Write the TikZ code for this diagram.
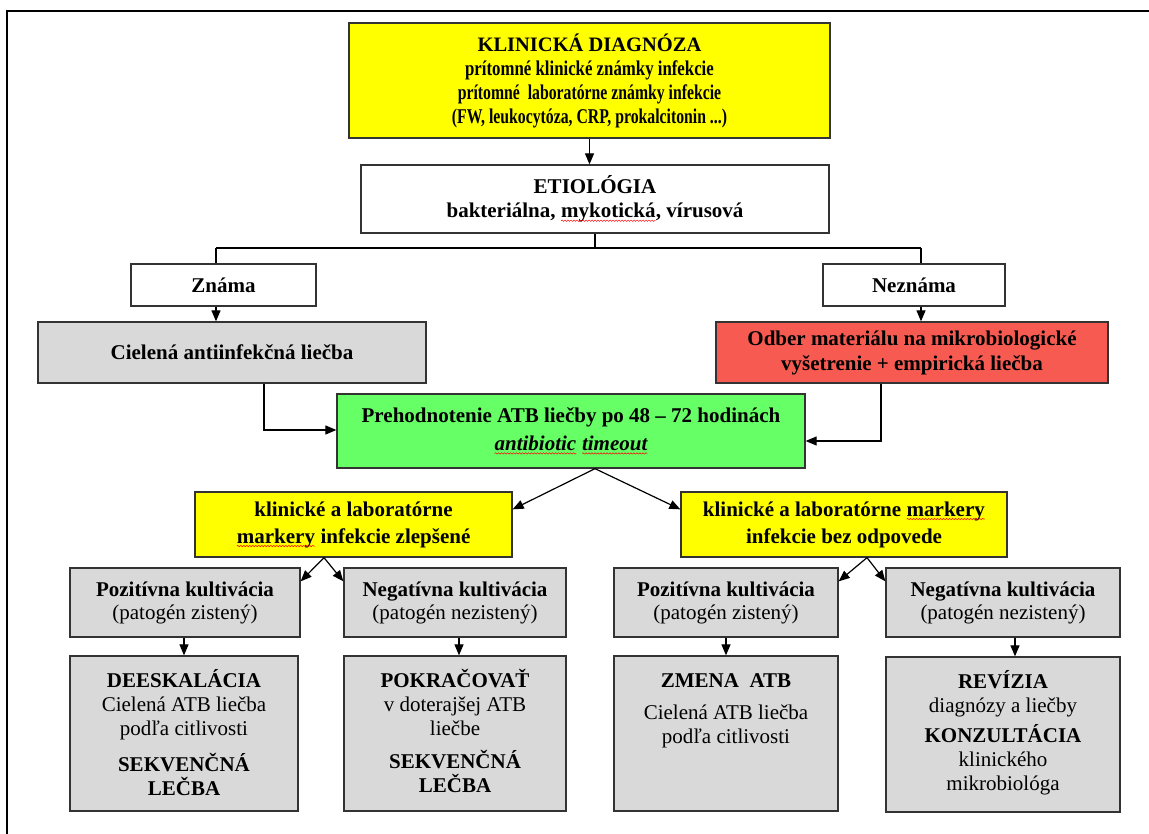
\documentclass[tikz,border=0pt]{standalone}
\usepackage{fontspec}
\setmainfont{Liberation Serif}
\usepackage{graphicx}
\usetikzlibrary{arrows.meta,decorations.pathmorphing}
\definecolor{ylw}{HTML}{FFFF00}
\definecolor{gry}{HTML}{D9D9D9}
\definecolor{rd}{HTML}{F75A50}
\definecolor{grn}{HTML}{66FF66}
\tikzset{
  box/.style={draw=black!80, line width=1.3pt, rectangle, inner sep=0pt, align=center,
    font=\fontsize{21}{24}\selectfont\bfseries},
  txt/.style={inner sep=0pt, align=center, font=\fontsize{21}{24}\selectfont},
  arr/.style={-{Triangle[length=11pt,width=9pt]}, line width=1.2pt},
  ln/.style={line width=1.2pt},
}
\newcommand\spell[1]{\tikz[baseline=(w.base)]{\node[inner sep=0pt,outer sep=0pt,minimum width=0pt,minimum height=0pt,draw=none,fill=none,align=none,anchor=base](w) at (0,0){#1};\draw[red,line width=0.5pt,decorate,decoration={snake,amplitude=0.7pt,segment length=3pt}]([yshift=-3pt]w.base west)--([yshift=-3pt]w.base east);}}
\newcommand\nar[2][0.75]{\scalebox{#1}[1]{#2}}
\begin{document}
\begin{tikzpicture}[x=1pt,y=-1pt]
\useasboundingbox (0,0) rectangle (1149,834);
% frame
\draw[line width=1.6pt] (7,834) -- (7,11) -- (1149,11);
% top boxes
\node[box, fill=ylw, minimum width=481pt, minimum height=115pt] (diag) at (589.5,80.5)
  {{\fontsize{20.5}{24.5}\selectfont KLINICKÁ DIAGNÓZA}\\
   \nar[0.8]{prítomné klinické známky infekcie}\\
   \nar{prítomné \ laboratórne známky infekcie}\\
   \nar{(FW, leukocytóza, CRP, prokalcitonin ...)}};
\node[box, fill=white, minimum width=468pt, minimum height=68pt] (etio) at (595,199)
  {ETIOLÓGIA\\ bakteriálna, \spell{mykotická}, vírusová};
\node[box, fill=white, minimum width=185pt, minimum height=42pt] (znama) at (223.5,285) {Známa};
\node[box, fill=white, minimum width=182pt, minimum height=42pt] (neznama) at (914,285) {Neznáma};
\node[box, fill=gry, minimum width=388pt, minimum height=61pt] (ciel) at (232,352.5) {Cielená antiinfekčná liečba};
\node[box, fill=rd, minimum width=392pt, minimum height=61pt, font=\fontsize{21}{25}\selectfont\bfseries] (odber) at (912,352.5)
  {Odber materiálu na mikrobiologické\\ vyšetrenie + empirická liečba};
\node[box, fill=grn, minimum width=468pt, minimum height=74pt, font=\fontsize{21}{28}\selectfont\bfseries] (green) at (571,431)
  {Prehodnotenie ATB liečby po 48 – 72 hodinách\\ \textit{\spell{antibiotic} \spell{timeout}}};
\node[box, fill=ylw, minimum width=317pt, minimum height=65pt, font=\fontsize{21}{27}\selectfont\bfseries] (yl) at (353.5,524.5)
  {klinické a laboratórne\\ \spell{markery} infekcie zlepšené};
\node[box, fill=ylw, minimum width=326pt, minimum height=65pt, font=\fontsize{21}{27}\selectfont\bfseries] (yr) at (844,524.5)
  {klinické a laboratórne \spell{markery}\\ infekcie bez odpovede};
% culture row
\node[box, fill=gry, minimum width=230pt, minimum height=69pt, font=\fontsize{21}{23}\selectfont\bfseries] (p1) at (185,602.5)
  {Pozitívna kultivácia\\ {\mdseries (patogén zistený)}};
\node[box, fill=gry, minimum width=222pt, minimum height=69pt, font=\fontsize{21}{23}\selectfont\bfseries] (n1) at (455,602.5)
  {Negatívna kultivácia\\ {\mdseries (patogén nezistený)}};
\node[box, fill=gry, minimum width=224pt, minimum height=69pt, font=\fontsize{21}{23}\selectfont\bfseries] (p2) at (726,602.5)
  {Pozitívna kultivácia\\ {\mdseries (patogén zistený)}};
\node[box, fill=gry, minimum width=234pt, minimum height=69pt, font=\fontsize{21}{23}\selectfont\bfseries] (n2) at (1003,602.5)
  {Negatívna kultivácia\\ {\mdseries (patogén nezistený)}};
% bottom boxes
\node[box, fill=gry, minimum width=228pt, minimum height=155pt] (b1) at (184,733.5) {};
\node[box, fill=gry, minimum width=222pt, minimum height=155pt] (b2) at (455,733.5) {};
\node[box, fill=gry, minimum width=224pt, minimum height=155pt] (b3) at (726,733.5) {};
\node[box, fill=gry, minimum width=234pt, minimum height=155pt] (b4) at (1003,734.5) {};
\node[txt, anchor=north] (t1) at ([yshift=-14pt]b1.north)
  {\rule{0pt}{18pt}\textbf{DEESKALÁCIA}\\ Cielená ATB liečba\\ podľa citlivosti\\[12pt] \textbf{SEKVENČNÁ}\\ \textbf{LEČBA}};
\node[txt, anchor=north] (t2) at ([yshift=-14pt]b2.north)
  {\rule{0pt}{18pt}\textbf{POKRAČOVAŤ}\\ v doterajšej ATB\\ liečbe\\[9pt] \textbf{SEKVENČNÁ}\\ \textbf{LEČBA}};
\node[txt, anchor=north] (t3) at ([yshift=-14pt]b3.north)
  {\rule{0pt}{18pt}\textbf{ZMENA \ ATB}\\[8pt] Cielená ATB liečba\\ podľa citlivosti};
\node[txt, anchor=north] (t4) at ([yshift=-14pt]b4.north)
  {\rule{0pt}{18pt}\textbf{REVÍZIA}\\ diagnózy a liečby\\[6pt] \textbf{KONZULTÁCIA}\\ klinického\\ mikrobiológa};
% connectors
\draw[arr] (diag.south) -- (diag.south |- etio.north);
\coordinate (jl) at (216,248);
\coordinate (jr) at (921,248);
\draw[ln] (etio.south) -- (etio.south |- jl);
\draw[ln] (jl) -- (jr);
\draw[ln] (jl) -- (jl |- znama.north);
\draw[ln] (jr) -- (jr |- neznama.north);
\draw[arr] (jl |- znama.south) -- (jl |- ciel.north);
\draw[arr] (jr |- neznama.south) -- (jr |- odber.north);
\coordinate (cl) at (264,430);
\coordinate (cr) at (881,441);
\draw[arr] (ciel.south -| cl) |- (green.west |- cl);
\draw[arr] (odber.south -| cr) |- (green.east |- cr);
\coordinate (ga) at (595,468);
\draw[arr] (green.south -| ga) -- ([yshift=-18pt]yl.north east);
\draw[arr] (green.south -| ga) -- ([yshift=-18pt]yr.north west);
\coordinate (fa) at (324,557);
\coordinate (fb) at (867,557);
\draw[arr] (yl.south -| fa) -- ([yshift=-14pt]p1.north east);
\draw[arr] (yl.south -| fa) -- ([yshift=-14pt]n1.north west);
\draw[arr] (yr.south -| fb) -- ([yshift=-14pt]p2.north east);
\draw[arr] (yr.south -| fb) -- ([yshift=-14pt]n2.north west);
\draw[arr] (b1.north |- p1.south) -- (b1.north);
\draw[arr] ([xshift=4pt]b2.north |- n1.south) -- ([xshift=4pt]b2.north);
\draw[arr] (b3.north |- p2.south) -- (b3.north);
\draw[arr] ([xshift=12pt]b4.north |- n2.south) -- ([xshift=12pt]b4.north);
\end{tikzpicture}
\end{document}
